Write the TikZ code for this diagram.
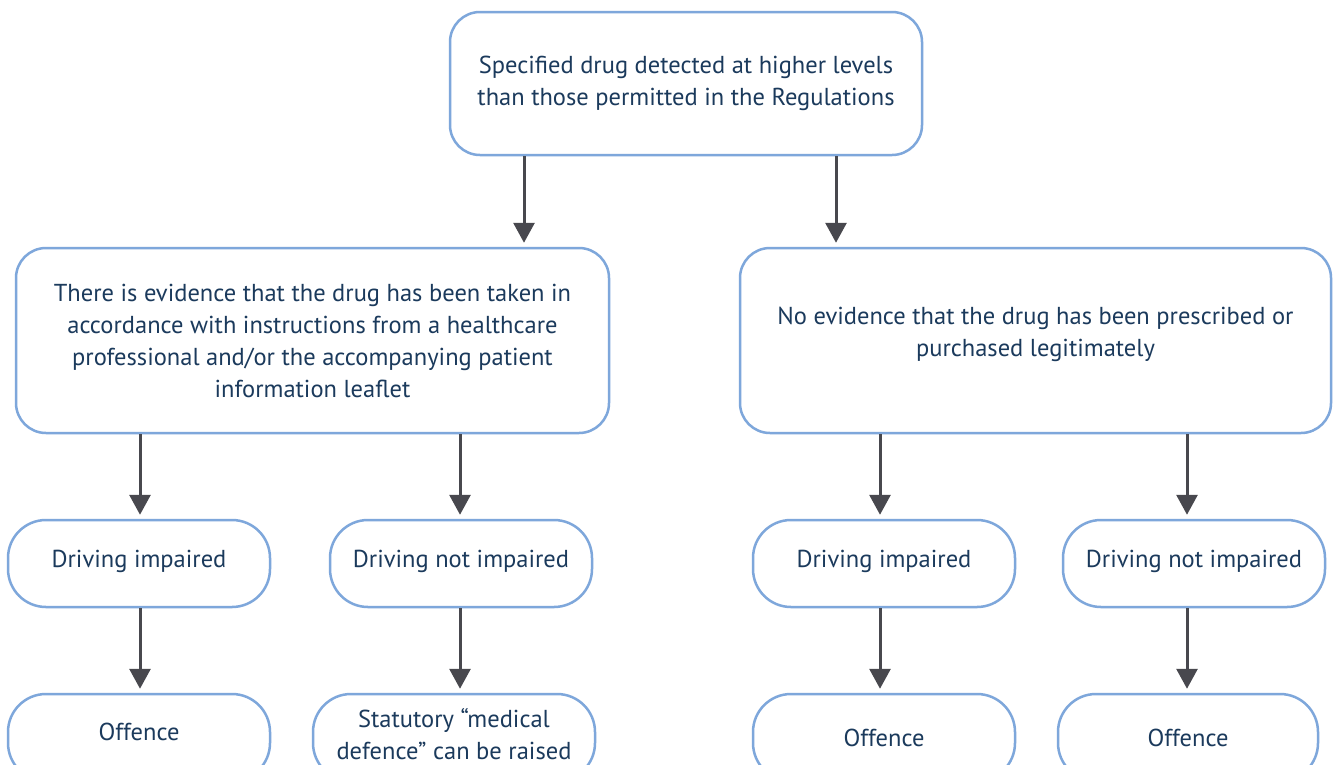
\documentclass[tikz,border=0pt]{standalone}
\usepackage{fontspec}
\setmainfont{PT Sans}
\usepackage{xcolor}
\usetikzlibrary{arrows.meta}

\definecolor{boxblue}{HTML}{7EA7DB}
\definecolor{textnavy}{HTML}{1B3A5C}
\definecolor{arrowgrey}{HTML}{48484E}

\begin{document}
\begin{tikzpicture}[x=1pt,y=-1pt,
    box/.style={draw=boxblue, line width=2.5pt, rounded corners=30pt, fill=white,
        text=textnavy, align=center, inner sep=0pt, font=\fontsize{24.5}{32}\selectfont},
    pill/.style={box, rounded corners=38pt, minimum width=262pt, minimum height=87pt},
    arrow/.style={draw=arrowgrey, line width=3pt, -{Triangle[width=21pt,length=20pt]}, shorten >=4pt}]
    % Canvas
    \clip (0,0) rectangle (1333,764);
    \fill[white] (0,0) rectangle (1333,764);

    % Top box
    \node[box, minimum width=472pt, minimum height=143pt] (detected) at (686,83.5)
        {Specified drug detected at higher levels\\than those permitted in the Regulations};

    % Evidence boxes
    \node[box, minimum width=593pt, minimum height=185pt] (evidence) at (312.5,340.5)
        {There is evidence that the drug has been taken in\\accordance with instructions from a healthcare\\professional and/or the accompanying patient\\information leaflet};
    \node[box, minimum width=591pt, minimum height=185pt] (noevidence) at (1035.5,340.5)
        {No evidence that the drug has been prescribed or\\purchased legitimately\\[-14pt]};

    % Driving boxes
    \node[pill] (impairedL) at (139,563.5) {Driving impaired\\[-23pt]};
    \node[pill] (notimpairedL) at (461,563.5) {Driving not impaired\\[-23pt]};
    \node[pill] (impairedR) at (884,563.5) {Driving impaired\\[-23pt]};
    \node[pill] (notimpairedR) at (1194,563.5) {Driving not impaired\\[-23pt]};

    % Outcome boxes
    \node[pill] (offenceL) at (139,737.5) {Offence\\[-20pt]};
    \node[pill, minimum width=282pt] (defence) at (454,737.5) {Statutory ``medical\\defence'' can be raised\\[-24pt]};
    \node[pill] (offenceR) at (884,737.5) {Offence};
    \node[pill, minimum width=260pt] (offenceRR) at (1188,737.5) {Offence};

    % Arrows
    \draw[arrow] (detected.south -| 524,0) -- (evidence.north -| 524,0);
    \draw[arrow] (detected.south -| 836,0) -- (noevidence.north -| 836,0);
    \draw[arrow] (evidence.south -| 140,0) -- (impairedL.north -| 140,0);
    \draw[arrow] (evidence.south -| 460,0) -- (notimpairedL.north -| 460,0);
    \draw[arrow] (noevidence.south -| 880,0) -- (impairedR.north -| 880,0);
    \draw[arrow] (noevidence.south -| 1187,0) -- (notimpairedR.north -| 1187,0);
    \draw[arrow] (impairedL.south -| 140,0) -- (offenceL.north -| 140,0);
    \draw[arrow] (notimpairedL.south -| 460,0) -- (defence.north -| 460,0);
    \draw[arrow] (impairedR.south -| 880,0) -- (offenceR.north -| 880,0);
    \draw[arrow] (notimpairedR.south -| 1187,0) -- (offenceRR.north -| 1187,0);
\end{tikzpicture}
\end{document}
